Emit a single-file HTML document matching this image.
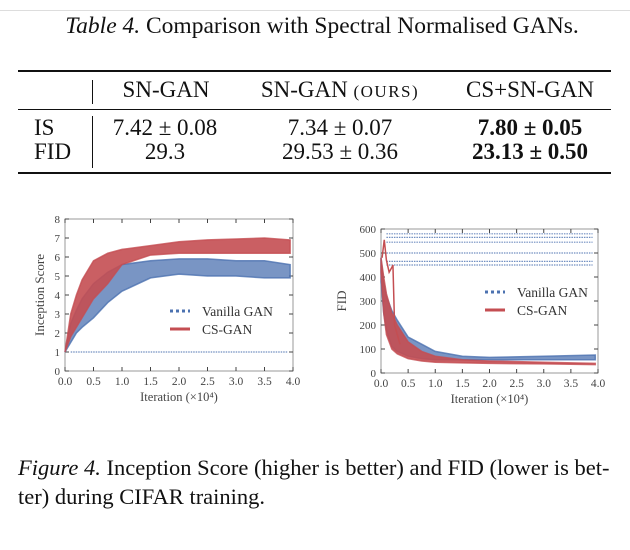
<!DOCTYPE html>
<html><head><meta charset="utf-8"><style>
body{margin:0;background:#fff;width:630px;height:550px;overflow:hidden;position:relative;font-family:"Liberation Serif",serif;color:#111}
.a{position:absolute;white-space:nowrap}
.c{position:absolute;white-space:nowrap;transform:translateX(-50%)}
</style></head><body>
<div class="a" style="left:0;top:10px;width:630px;height:1px;background:#ddd"></div>
<div class="c" style="left:322px;top:13px;font-size:23.5px"><i>Table 4.</i> Comparison with Spectral Normalised GANs.</div>
<div class="a" style="left:18px;top:70px;width:593px;height:2px;background:#111"></div>
<div class="a" style="left:18px;top:109px;width:593px;height:1px;background:#111"></div>
<div class="a" style="left:18px;top:172px;width:593px;height:2px;background:#111"></div>
<div class="a" style="left:92px;top:80px;width:1px;height:24px;background:#111"></div>
<div class="a" style="left:92px;top:116px;width:1px;height:52px;background:#111"></div>
<div style="font-size:23px">
<div class="c" style="left:166px;top:77px">SN-GAN</div>
<div class="c" style="left:340px;top:77px">SN-GAN <span style="font-size:17px;letter-spacing:1.5px">(OURS)</span></div>
<div class="c" style="left:530px;top:77px">CS+SN-GAN</div>
<div class="a" style="left:34px;top:115px">IS</div>
<div class="a" style="left:34px;top:139px">FID</div>
<div class="c" style="left:165px;top:115px">7.42 ± 0.08</div>
<div class="c" style="left:340px;top:115px">7.34 ± 0.07</div>
<div class="c" style="left:530px;top:115px;font-weight:bold">7.80 ± 0.05</div>
<div class="c" style="left:165px;top:139px">29.3</div>
<div class="c" style="left:340px;top:139px">29.53 ± 0.36</div>
<div class="c" style="left:530px;top:139px;font-weight:bold">23.13 ± 0.50</div>
</div>
<svg class="a" style="left:0;top:0" width="630" height="550" id="s"></svg>
<div class="a" style="left:18px;top:453px;font-size:22.5px;line-height:29px"><i>Figure 4.</i> Inception Score (higher is better) and FID (lower is bet-<br>ter) during CIFAR training.</div>
<script>
const xs=[0,0.1,0.2,0.3,0.5,0.75,1,1.5,2,2.5,3,3.5,3.95];
const isRedUp=[1,3.0,4.0,4.8,5.8,6.2,6.4,6.6,6.8,6.9,6.95,7.0,6.9];
const isRedLo=[1,1.8,2.3,2.8,3.8,4.6,5.6,6.1,6.2,6.2,6.2,6.2,6.2];
const isBlueUp=[1,2.5,3.2,3.8,4.6,5.2,5.6,5.8,5.9,5.9,5.8,5.8,5.6];
const isBlueLo=[1,1.5,2.0,2.3,2.8,3.6,4.2,4.9,5.1,5.0,5.0,4.9,4.9];
const isFlat=[1];
const fxs=[0,0.05,0.1,0.2,0.3,0.5,0.75,1,1.5,2,3,3.95];
const fidRedUp=[480,400,330,250,200,130,90,70,55,50,45,40];
const fidRedLo=[420,250,160,100,80,60,50,45,42,40,38,35];
const fidBlueUp=[480,380,320,260,220,150,120,90,70,65,70,75];
const fidBlueLo=[380,250,180,110,90,70,60,55,55,55,55,55];
const fidFlat=[580,565,545,500,465,450];
const fidSpikeX=[0.02,0.06,0.1,0.15,0.2,0.22,0.25,0.35];
const fidSpikeY=[480,555,470,420,440,450,200,120];
const isTicks=[0,1,2,3,4,5,6,7,8];
const fidTicks=[0,100,200,300,400,500,600];
const xTicks=["0.0","0.5","1.0","1.5","2.0","2.5","3.0","3.5","4.0"];
const R='#c44e52',B='#4c72b0',S=document.getElementById('s'),NS='http://www.w3.org/2000/svg';
function mk(t,a,txt){const e=document.createElementNS(NS,t);for(const k in a)e.setAttribute(k,a[k]);if(txt!==undefined)e.textContent=txt;S.appendChild(e);return e;}
function chart(c){
 const X=v=>c.x0+(c.x1-c.x0)*v/4, Y=v=>c.y0-(c.y0-c.y1)*v/c.ymax;
 const f=mk('rect',{x:c.x0,y:c.y1,width:c.x1-c.x0,height:c.y0-c.y1,fill:'none',stroke:'#999','stroke-width':1});
 
 c.yt.forEach(v=>{mk('line',{x1:c.x0,x2:c.x0+4,y1:Y(v),y2:Y(v),stroke:'#444'});mk('line',{x1:c.x1,x2:c.x1-4,y1:Y(v),y2:Y(v),stroke:'#444'});
  const t=mk('text',{x:c.x0-5,y:Y(v)+4,'text-anchor':'end','font-size':11,fill:'#444','font-family':'Liberation Serif'},v);
  });
 xTicks.forEach(s=>{const v=+s;mk('line',{x1:X(v),x2:X(v),y1:c.y0,y2:c.y0-4,stroke:'#444'});mk('line',{x1:X(v),x2:X(v),y1:c.y1,y2:c.y1+4,stroke:'#444'});
  const t=mk('text',{x:X(v),y:c.y0+14,'text-anchor':'middle','font-size':11.5,fill:'#444','font-family':'Liberation Serif'},s);
  });
 function band(xx,up,lo,col,op,nm){let p=xx.map((x,i)=>X(x)+','+Y(up[i]));for(let i=xx.length-1;i>=0;i--)p.push(X(xx[i])+','+Y(lo[i]));
  const e=mk('polygon',{points:p.join(' '),fill:col,'fill-opacity':op,stroke:col,'stroke-width':1.5,'stroke-opacity':0.8});
  }
 c.flat.forEach(v=>{const e=mk('line',{x1:X(0.1),x2:X(3.9),y1:Y(v),y2:Y(v),stroke:B,'stroke-width':1.2,'stroke-dasharray':'1.5 1','stroke-opacity':0.8});
  });
 band(c.xs,c.bu,c.bl,B,0.75,c.n+'-vanilla-band');
 band(c.xs,c.ru,c.rl,R,0.9,c.n+'-cs-band');
 if(c.sx){const e=mk('polyline',{points:c.sx.map((x,i)=>X(x)+','+Y(c.sy[i])).join(' '),fill:'none',stroke:R,'stroke-width':1.5});
  }
 const xl=mk('text',{x:(c.x0+c.x1)/2,y:c.y0+30,'text-anchor':'middle','font-size':12.5,fill:'#444','font-family':'Liberation Serif'},'Iteration (×10⁴)');
 
 const yl=mk('text',{x:0,y:0,transform:`translate(${c.yx},${(c.y0+c.y1)/2}) rotate(-90)`,'text-anchor':'middle','font-size':13,fill:'#444','font-family':'Liberation Serif'},c.yl);
 
 const l1=mk('line',{x1:c.lx,x2:c.lx+20,y1:c.ly,y2:c.ly,stroke:B,'stroke-width':3,'stroke-dasharray':'3 3'});
 
 const l2=mk('line',{x1:c.lx,x2:c.lx+20,y1:c.ly+18,y2:c.ly+18,stroke:R,'stroke-width':3});
 
 const t1=mk('text',{x:c.lx+32,y:c.ly+5,'font-size':13.5,fill:'#333','font-family':'Liberation Serif'},'Vanilla GAN');
 
 const t2=mk('text',{x:c.lx+32,y:c.ly+23,'font-size':13.5,fill:'#333','font-family':'Liberation Serif'},'CS-GAN');
 
}
chart({n:'is-chart',x0:65,x1:293,y0:371,y1:219,ymax:8,yt:isTicks,xs:xs,ru:isRedUp,rl:isRedLo,bu:isBlueUp,bl:isBlueLo,flat:isFlat,yl:'Inception Score',yx:44,lx:170,ly:311});
chart({n:'fid-chart',x0:381,x1:598,y0:373,y1:229,ymax:600,yt:fidTicks,xs:fxs,ru:fidRedUp,rl:fidRedLo,bu:fidBlueUp,bl:fidBlueLo,flat:fidFlat,sx:fidSpikeX,sy:fidSpikeY,yl:'FID',yx:346,lx:485,ly:292});
</script>
</body></html>
